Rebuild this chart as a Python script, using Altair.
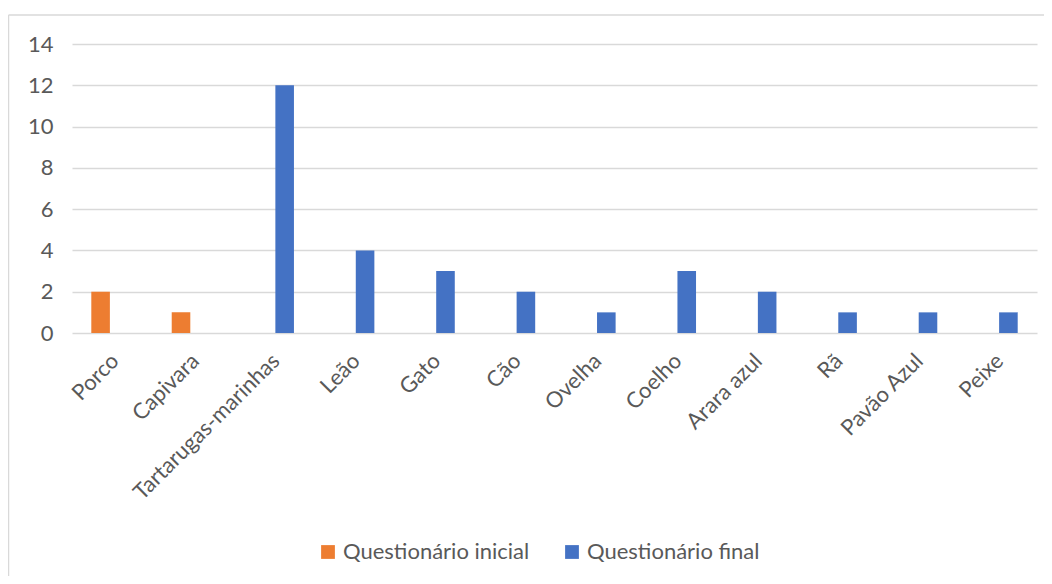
import altair as alt
import pandas as pd

categories = ["Porco", "Capivara", "Tartarugas-marinhas", "Leão", "Gato", "Cão",
              "Ovelha", "Coelho", "Arara azul", "Rã", "Pavão Azul", "Peixe"]
series_names = ["Questionário inicial", "Questionário final"]
inicial = [2, 1, None, None, None, None, None, None, None, None, None, None]
final = [None, None, 12, 4, 3, 2, 1, 3, 2, 1, 1, 1]
y_ticks = [0, 2, 4, 6, 8, 10, 12, 14]
colors = ["#ED7D31", "#4472C4"]

rows = []
for c, a, b in zip(categories, inicial, final):
    if a is not None:
        rows.append({"animal": c, "serie": series_names[0], "valor": a})
    if b is not None:
        rows.append({"animal": c, "serie": series_names[1], "valor": b})
df = pd.DataFrame(rows)

FONT = "Lato"
FS = 22
GREY = "#595959"
GRID = "#d9d9d9"

bars = alt.Chart(df).mark_bar().encode(
    x=alt.X("animal:N", sort=categories,
            scale=alt.Scale(paddingInner=0.48, paddingOuter=0.24),
            axis=alt.Axis(title=None, labelAngle=-45, labelFont=FONT, labelFontSize=FS,
                          labelColor=GREY, domain=False, ticks=False, labelPadding=24,
                          labelOffset=3, labelLimit=400,
                          labelAlign="right", labelBaseline="middle")),
    xOffset=alt.XOffset("serie:N", sort=series_names,
                        scale=alt.Scale(domain=series_names, paddingInner=0.2)),
    y=alt.Y("valor:Q", scale=alt.Scale(domain=[0, 14]),
            axis=alt.Axis(title=None, values=y_ticks, labelFont=FONT, labelFontSize=FS,
                          labelColor=GREY, domain=False, ticks=False, labelPadding=19,
                          grid=True, gridColor=GRID, gridWidth=1.5)),
    color=alt.Color("serie:N", sort=series_names,
                    scale=alt.Scale(domain=series_names, range=colors),
                    legend=alt.Legend(title=None, orient="none", direction="horizontal",
                                      legendX=245, legendY=497, symbolType="square",
                                      symbolSize=190, symbolStrokeWidth=0,
                                      labelFont=FONT, labelFontSize=FS, labelColor=GREY,
                                      labelOffset=4, columnPadding=31, labelLimit=400)),
)

frame_df = pd.DataFrame({"k": [0]})
left_edge = alt.Chart(frame_df).mark_rule(color=GRID, strokeWidth=1.5).encode(
    x=alt.value(-63.5), y=alt.value(-29), y2=alt.value(540))
top_edge = alt.Chart(frame_df).mark_rule(color=GRID, strokeWidth=1.5).encode(
    x=alt.value(-63.5), x2=alt.value(990), y=alt.value(-29))

chart = alt.layer(left_edge, top_edge, bars).properties(
    width=965, height=289, autosize="none",
    padding={"left": 64, "top": 36, "right": 7, "bottom": 243},
).configure_view(stroke=None)

chart.save("out.html", embed_options={"renderer": "svg", "actions": False})
